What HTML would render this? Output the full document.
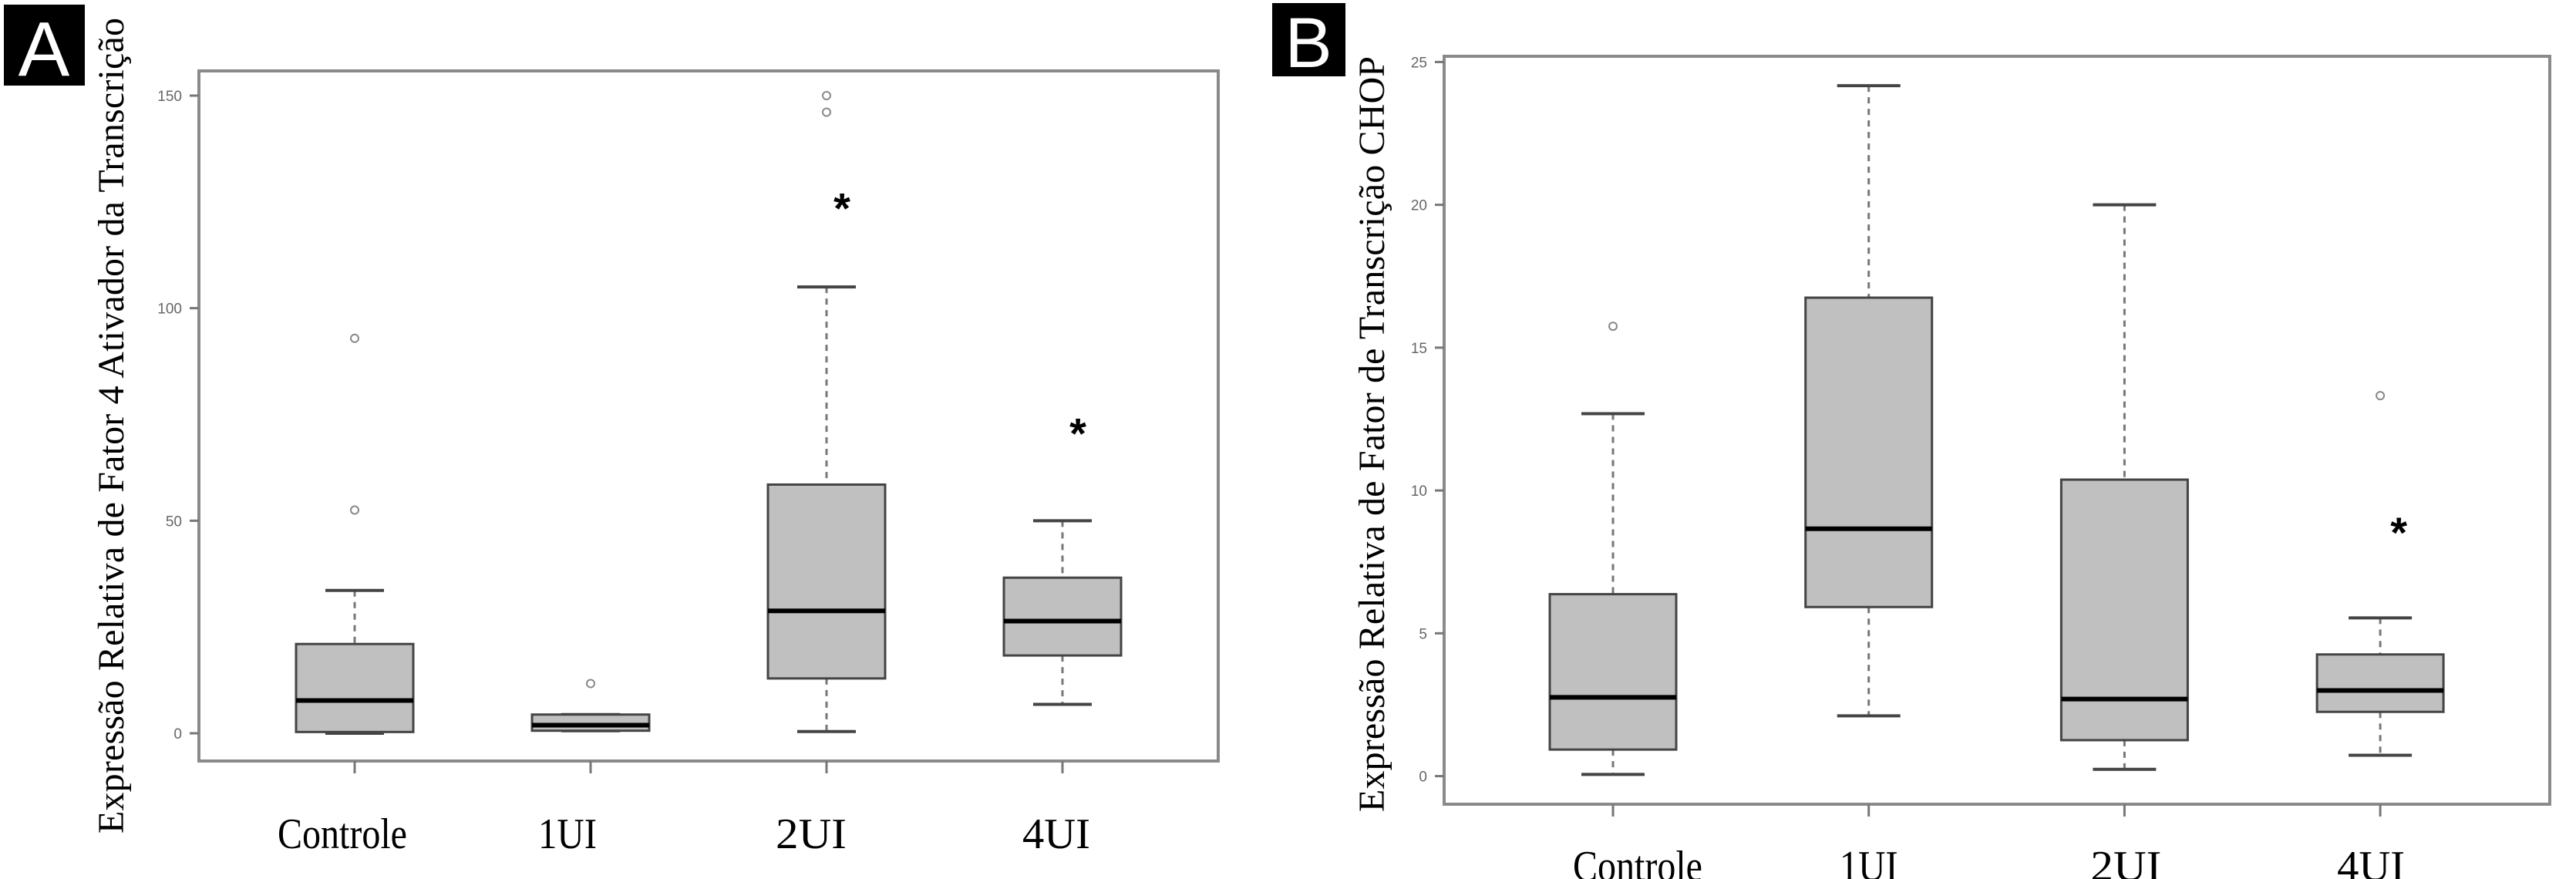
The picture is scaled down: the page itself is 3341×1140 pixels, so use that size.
<!DOCTYPE html>
<html><head><meta charset="utf-8"><style>
html,body{margin:0;padding:0;background:#fff;}
svg{display:block;}
</style></head><body>
<svg id="chart" width="3341" height="1140" viewBox="0 0 3341 1140" xmlns="http://www.w3.org/2000/svg">
<rect x="0" y="0" width="3341" height="1140" fill="#fff"/>
<g><rect x="5" y="6" width="105" height="105" fill="#000"/><text x="57" y="98" font-family="Liberation Sans, sans-serif" font-size="100" fill="#fff" text-anchor="middle">A</text></g>
<g><rect x="1650" y="4" width="95" height="95" fill="#000"/><text x="1697" y="87" font-family="Liberation Sans, sans-serif" font-size="92" fill="#fff" text-anchor="middle">B</text></g>
<text transform="translate(160,552) rotate(-90)" font-family="Liberation Serif, serif" font-size="48" fill="#000" text-anchor="middle" textLength="1058" lengthAdjust="spacing">Expressão Relativa de Fator 4 Ativador da Transcrição</text>
<text transform="translate(1795,563) rotate(-90)" font-family="Liberation Serif, serif" font-size="48" fill="#000" text-anchor="middle" textLength="980" lengthAdjust="spacing">Expressão Relativa de Fator de Transcrição CHOP</text>
<g id="pa"></g><g id="pb"></g>
</svg>
<script>
const categories = ["Controle","1UI","2UI","4UI"];
// Panel A
const aLow = [0, 0.6, 0.4, 6.8];
const aQ1 = [0.3, 0.6, 12.9, 18.3];
const aMed = [7.7, 1.9, 28.8, 26.4];
const aQ3 = [21, 4.4, 58.5, 36.6];
const aHigh = [33.6, 4.4, 105, 50];
const aOutliers = [[52.5, 92.9], [11.7], [146.1, 150], []];
const aStars = [null, null, 124, 71];
const aTicks = [0, 50, 100, 150];
// Panel B
const bLow = [0.06, 2.11, 0.24, 0.73];
const bQ1 = [0.93, 5.92, 1.26, 2.25];
const bMed = [2.76, 8.66, 2.70, 3.0];
const bQ3 = [6.37, 16.75, 10.38, 4.26];
const bHigh = [12.69, 24.17, 20.0, 5.54];
const bOutliers = [[15.75], [], [], [13.32]];
const bStars = [null, null, null, 8.6];
const bTicks = [0, 5, 10, 15, 20, 25];

const NS = "http://www.w3.org/2000/svg";
function mk(parent, tag, attrs){const e=document.createElementNS(NS,tag);for(const k in attrs)e.setAttribute(k,attrs[k]);parent.appendChild(e);return e;}

function panel(g, cfg, low,q1,med,q3,high,outs,stars,ticks){
  const y = v => cfg.y0 - (v - ticks[0])*(cfg.y0 - cfg.yTop)/(ticks[ticks.length-1]-ticks[0]);
  const x = i => cfg.xs[0] + i*(cfg.xs[1]-cfg.xs[0]);
  const fr = mk(g,'rect',{x:cfg.L,y:cfg.T,width:cfg.R-cfg.L,height:cfg.B-cfg.T,fill:'none',stroke:'#8a8a8a','stroke-width':4});
  
  
  ticks.forEach(t=>{
    const l=mk(g,'line',{x1:cfg.L-12,x2:cfg.L,y1:y(t),y2:y(t),stroke:'#777','stroke-width':3});
    
    
    const tx=mk(g,'text',{x:cfg.L-22,y:y(t)+7,'font-family':'Liberation Sans, sans-serif','font-size':19,fill:'#666','text-anchor':'end'});
    tx.textContent=t;
    
    
  });
  categories.forEach((c,i)=>{
    const cx=x(i), hw=cfg.hw;
    const tk=mk(g,'line',{x1:cx,x2:cx,y1:cfg.B,y2:cfg.B+16,stroke:'#777','stroke-width':3});
    
    
    const lb=mk(g,'text',{x:cx+cfg.lblOff[i],y:cfg.lblY,'font-family':'Liberation Serif, serif','font-size':56,fill:'#000','text-anchor':'middle',textLength:cfg.lblW[i],lengthAdjust:'spacingAndGlyphs'});
    lb.textContent=c;
    
    
    const w1=mk(g,'line',{x1:cx,x2:cx,y1:y(high[i]),y2:y(q3[i]),stroke:'#777','stroke-width':3,'stroke-dasharray':'8,7'});
    
    
    const w2=mk(g,'line',{x1:cx,x2:cx,y1:y(q1[i]),y2:y(low[i]),stroke:'#777','stroke-width':3,'stroke-dasharray':'8,7'});
    
    
    [high[i],low[i]].forEach(v=>{
      const cap=mk(g,'line',{x1:cx-hw/2,x2:cx+hw/2,y1:y(v),y2:y(v),stroke:'#444','stroke-width':4});
      
      
    });
    const bx=mk(g,'rect',{x:cx-hw,y:y(q3[i]),width:2*hw,height:Math.max(2,y(q1[i])-y(q3[i])),fill:'#c0c0c0',stroke:'#444','stroke-width':3});
    
    
    const md=mk(g,'line',{x1:cx-hw,x2:cx+hw,y1:y(med[i]),y2:y(med[i]),stroke:'#000','stroke-width':6});
    
    
    outs[i].forEach(v=>{
      const o=mk(g,'circle',{cx:cx,cy:y(v),r:5,fill:'none',stroke:'#888','stroke-width':2});
      
      
    });
    if(stars[i]!==null){
      const s=mk(g,'text',{x:cx+cfg.starOff,y:y(stars[i])+22,'font-family':'Liberation Sans, sans-serif','font-size':56,'font-weight':'bold',fill:'#000','text-anchor':'middle'});
      s.textContent='*';
      
      
    }
  });
}
panel(document.getElementById('pa'),{L:258,R:1580,T:92,B:987,y0:951,yTop:124,xs:[460,766],hw:76,lblY:1100,lblW:[168,76,92,88],lblOff:[-16,-30,-20,-8],starOff:20},aLow,aQ1,aMed,aQ3,aHigh,aOutliers,aStars,aTicks);
panel(document.getElementById('pb'),{L:1873,R:3307,T:73,B:1043,y0:1006.6,yTop:80.4,xs:[2092,2423.7],hw:82,lblY:1142,lblW:[168,76,92,88],lblOff:[32,0,2,-12],starOff:24},bLow,bQ1,bMed,bQ3,bHigh,bOutliers,bStars,bTicks);
</script>
</body></html>
